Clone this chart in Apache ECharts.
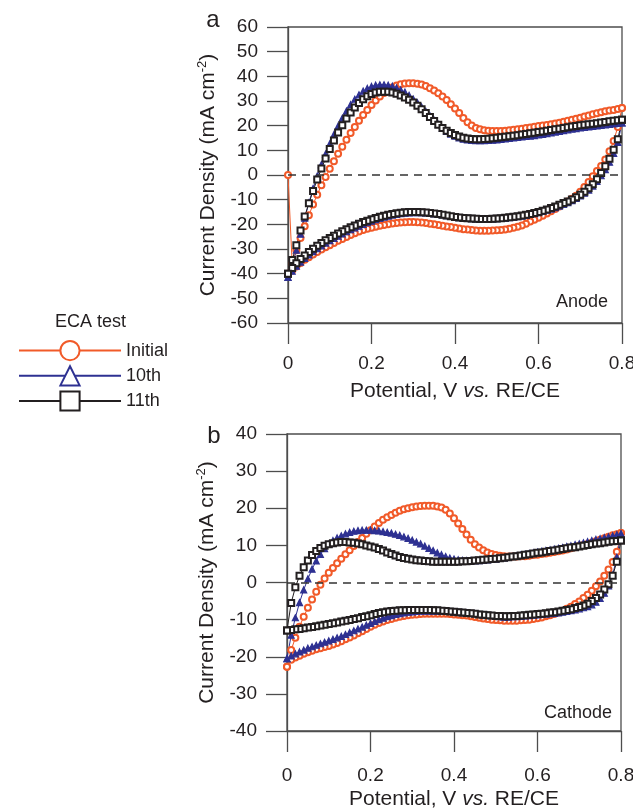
<!DOCTYPE html>
<html lang="en">
<head>
    <meta charset="UTF-8">
    <title>ECA test</title>
    <script src="https://cdn.jsdelivr.net/npm/echarts@6/dist/echarts.min.js"></script>
    <style>
        html, body { margin: 0; padding: 0; background: #fff; }
    </style>
</head>
<body>
<div id="main" style="width: 633px;height:810px;"></div>
<script type="text/javascript">
    // potential steps of one sweep, V
    const POT = [
        0, 0.01, 0.02, 0.03, 0.04, 0.05, 0.06, 0.07, 0.08, 0.09,
        0.1, 0.11, 0.12, 0.13, 0.14, 0.15, 0.16, 0.17, 0.18, 0.19,
        0.2, 0.21, 0.22, 0.23, 0.24, 0.25, 0.26, 0.27, 0.28, 0.29,
        0.3, 0.31, 0.32, 0.33, 0.34, 0.35, 0.36, 0.37, 0.38, 0.39,
        0.4, 0.41, 0.42, 0.43, 0.44, 0.45, 0.46, 0.47, 0.48, 0.49,
        0.5, 0.51, 0.52, 0.53, 0.54, 0.55, 0.56, 0.57, 0.58, 0.59,
        0.6, 0.61, 0.62, 0.63, 0.64, 0.65, 0.66, 0.67, 0.68, 0.69,
        0.7, 0.71, 0.72, 0.73, 0.74, 0.75, 0.76, 0.77, 0.78, 0.79,
        0.8
    ];
    const X_TICKS = [0, 0.2, 0.4, 0.6, 0.8];
    const NAMES = ['Initial', '10th', '11th'];

    // ---- anode, mA cm-2 ; Fwd = 0 -> 0.8 V, Rev = 0.8 -> 0 V
    const anodeInitialFwd = [
        0, -36, -30.5, -25.5, -20.8, -16.3, -12, -8, -4.2, -0.8,
        2.5, 5.6, 8.6, 11.5, 14.3, 17, 19.5, 22, 24.3, 26.4,
        28.4, 30.2, 31.8, 33.2, 34.5, 35.5, 36.3, 36.8, 37.1, 37.2,
        37.2, 37, 36.7, 36.1, 35.2, 34.3, 33.1, 31.8, 30.4, 28.7,
        27, 25.1, 23.1, 21.4, 20.1, 19.1, 18.5, 18.1, 17.9, 17.8,
        17.8, 17.8, 17.9, 18.1, 18.3, 18.5, 18.8, 19.1, 19.3, 19.6,
        19.9, 20.1, 20.3, 20.6, 20.9, 21.2, 21.6, 22, 22.4, 22.8,
        23.2, 23.7, 24.1, 24.6, 25, 25.4, 25.8, 26.1, 26.4, 26.8,
        27.2
    ];
    const anodeInitialRev = [
        27.2, 19.5, 13.8, 9.6, 6.3, 3.6, 1.6, -0.5, -2.8, -4.9,
        -6.8, -8.4, -9.6, -10.7, -11.8, -12.8, -13.8, -14.7, -15.6, -16.5,
        -17.3, -18.1, -18.9, -19.8, -20.5, -21, -21.4, -21.8, -22.1, -22.3,
        -22.4, -22.5, -22.6, -22.6, -22.6, -22.5, -22.3, -22.1, -22, -21.7,
        -21.4, -21.1, -20.9, -20.6, -20.3, -20, -19.8, -19.5, -19.3, -19.2,
        -19.1, -19.1, -19.2, -19.3, -19.5, -19.7, -20, -20.3, -20.6, -21,
        -21.4, -21.8, -22.3, -22.9, -23.6, -24.3, -25.1, -25.9, -26.7, -27.6,
        -28.5, -29.3, -30.2, -31.2, -32.2, -33.3, -34.4, -35.7, -37.1, -38.7,
        -40
    ];
    const anode10Fwd = [
        -41.5, -37, -30.5, -24, -17.5, -11.3, -5.5, -0.4, 4.2, 8.5,
        12.6, 16.4, 19.8, 23, 25.9, 28.5, 30.7, 32.5, 34, 35.1,
        35.9, 36.4, 36.6, 36.6, 36.4, 36, 35.3, 34.5, 33.6, 32.3,
        30.8, 29.3, 27.6, 25.8, 24, 22.2, 20.5, 19, 17.7, 16.6,
        15.7, 15, 14.5, 14.2, 14, 13.9, 13.9, 13.9, 14, 14.1,
        14.2, 14.4, 14.6, 14.8, 15, 15.2, 15.4, 15.6, 15.8, 16,
        16.3, 16.5, 16.8, 17.1, 17.4, 17.7, 18, 18.3, 18.6, 18.8,
        19.1, 19.3, 19.5, 19.7, 19.9, 20.1, 20.3, 20.5, 20.7, 20.9,
        21.1
    ];
    const anode10Rev = [
        21.1, 13.2, 8.8, 5.2, 2.2, -0.3, -2.6, -4.5, -6.1, -7.4,
        -8.5, -9.5, -10.4, -11.2, -11.9, -12.6, -13.2, -13.8, -14.3, -14.8,
        -15.3, -15.7, -16, -16.4, -16.7, -16.9, -17.1, -17.3, -17.5, -17.6,
        -17.7, -17.8, -17.9, -17.9, -17.9, -17.8, -17.7, -17.6, -17.5, -17.3,
        -17.1, -16.8, -16.5, -16.2, -16, -15.8, -15.6, -15.4, -15.3, -15.3,
        -15.3, -15.4, -15.5, -15.7, -16, -16.3, -16.7, -17.1, -17.6, -18.1,
        -18.7, -19.3, -20, -20.7, -21.4, -22.2, -23, -23.9, -24.8, -25.7,
        -26.6, -27.6, -28.7, -29.9, -31.1, -32.4, -33.8, -35.3, -37, -39,
        -41.5
    ];
    const anode11Fwd = [
        -40, -34.5, -28.5, -22.5, -16.8, -11.5, -6.5, -1.8, 2.6, 6.7,
        10.5, 14, 17.2, 20.2, 22.9, 25.3, 27.4, 29.2, 30.7, 31.9,
        32.8, 33.4, 33.7, 33.8, 33.7, 33.4, 32.9, 32.2, 31.4, 30.5,
        29.4, 28.1, 26.7, 25.1, 23.5, 21.9, 20.4, 19.1, 17.9, 17,
        16.2, 15.6, 15.1, 14.8, 14.6, 14.5, 14.5, 14.6, 14.7, 14.9,
        15.1, 15.3, 15.5, 15.7, 15.9, 16.1, 16.4, 16.6, 16.9, 17.1,
        17.4, 17.6, 17.9, 18.2, 18.5, 18.8, 19.1, 19.4, 19.7, 19.9,
        20.2, 20.4, 20.6, 20.8, 21, 21.3, 21.5, 21.8, 22, 22.2,
        22.4
    ];
    const anode11Rev = [
        22.4, 14.5, 10.2, 6.6, 3.5, 0.8, -1.7, -3.7, -5.4, -6.8,
        -8, -9, -9.9, -10.7, -11.4, -12.1, -12.8, -13.4, -14, -14.5,
        -15, -15.4, -15.8, -16.1, -16.4, -16.7, -16.9, -17.1, -17.3, -17.5,
        -17.6, -17.7, -17.8, -17.8, -17.8, -17.7, -17.6, -17.5, -17.4, -17.2,
        -17, -16.7, -16.4, -16.1, -15.8, -15.6, -15.4, -15.2, -15.1, -15,
        -15, -15, -15.1, -15.3, -15.5, -15.8, -16.1, -16.5, -16.9, -17.4,
        -17.9, -18.5, -19.1, -19.8, -20.5, -21.2, -22, -22.8, -23.7, -24.6,
        -25.5, -26.5, -27.6, -28.7, -29.9, -31.2, -32.6, -34.1, -35.8, -37.7,
        -40
    ];

    // ---- cathode
    const cathodeInitialFwd = [
        -22.7, -18.2, -14.9, -11.9, -9.2, -6.8, -4.6, -2.5, -0.6, 1.1,
        2.6, 3.9, 5.2, 6.4, 7.6, 8.7, 9.8, 10.9, 12, 13.1,
        14.1, 15.1, 16, 16.9, 17.6, 18.2, 18.8, 19.3, 19.7, 20,
        20.3, 20.5, 20.6, 20.7, 20.7, 20.7, 20.5, 20.2, 19.6, 18.6,
        17.3, 15.9, 14.4, 12.9, 11.5, 10.3, 9.4, 8.7, 8.1, 7.7,
        7.4, 7.2, 7.1, 7, 7, 7, 7.1, 7.1, 7.2, 7.4,
        7.5, 7.7, 7.8, 8, 8.2, 8.4, 8.6, 8.9, 9.2, 9.5,
        9.8, 10.1, 10.4, 10.7, 11.1, 11.5, 11.9, 12.3, 12.7, 13,
        13.3
    ];
    const cathodeInitialRev = [
        13.3, 8.3, 5.5, 3.5, 1.8, 0.3, -1, -2.2, -3.3, -4.2,
        -5.1, -5.8, -6.5, -7.1, -7.6, -8.1, -8.5, -8.8, -9.1, -9.4,
        -9.6, -9.8, -10, -10.1, -10.2, -10.3, -10.3, -10.3, -10.3, -10.2,
        -10.1, -10, -9.8, -9.7, -9.5, -9.3, -9.1, -8.9, -8.8, -8.7,
        -8.6, -8.5, -8.4, -8.4, -8.4, -8.4, -8.4, -8.4, -8.5, -8.6,
        -8.7, -8.8, -9, -9.2, -9.5, -9.8, -10.1, -10.5, -10.9, -11.4,
        -11.9, -12.5, -13.1, -13.7, -14.3, -14.8, -15.3, -15.8, -16.3, -16.7,
        -17.1, -17.4, -17.7, -18, -18.4, -18.8, -19.2, -19.7, -20.2, -20.8,
        -22.7
    ];
    const cathode10Fwd = [
        -20.5, -14.2, -9.5, -5.4, -2, 1, 3.6, 5.8, 7.6, 9.1,
        10.3, 11.3, 12, 12.6, 13.1, 13.5, 13.8, 14, 14.1, 14.1,
        14.1, 14, 13.9, 13.7, 13.5, 13.3, 13, 12.7, 12.3, 11.9,
        11.4, 10.9, 10.4, 9.8, 9.2, 8.6, 8, 7.5, 7, 6.6,
        6.3, 6.1, 6, 5.9, 5.9, 5.9, 5.9, 6, 6.1, 6.2,
        6.3, 6.5, 6.6, 6.8, 7, 7.2, 7.4, 7.6, 7.8, 8,
        8.2, 8.4, 8.6, 8.8, 9, 9.2, 9.4, 9.7, 9.9, 10.2,
        10.4, 10.7, 11, 11.3, 11.6, 11.8, 12.1, 12.3, 12.6, 12.9,
        13.1
    ];
    const cathode10Rev = [
        13.1, 6.8, 2, -0.9, -2.9, -4.3, -5.3, -6, -6.5, -6.8,
        -7.1, -7.4, -7.6, -7.8, -8, -8.2, -8.3, -8.4, -8.5, -8.6,
        -8.7, -8.8, -8.9, -9, -9.1, -9.2, -9.2, -9.3, -9.3, -9.2,
        -9.1, -8.9, -8.8, -8.7, -8.6, -8.4, -8.3, -8.2, -8.1, -8,
        -7.9, -7.8, -7.8, -7.7, -7.7, -7.7, -7.7, -7.7, -7.7, -7.8,
        -7.9, -8, -8.2, -8.4, -8.6, -8.9, -9.2, -9.6, -10, -10.5,
        -11, -11.5, -12, -12.5, -13, -13.5, -14, -14.5, -14.9, -15.3,
        -15.7, -16.1, -16.5, -16.9, -17.3, -17.7, -18.2, -18.7, -19.2, -19.8,
        -20.5
    ];
    const cathode11Fwd = [
        -12.9, -5.5, -1.3, 1.8, 4.1, 5.9, 7.4, 8.5, 9.3, 9.9,
        10.3, 10.6, 10.8, 10.9, 10.9, 10.8, 10.7, 10.5, 10.3, 10,
        9.7, 9.4, 9, 8.6, 8.1, 7.7, 7.3, 6.9, 6.6, 6.4,
        6.2, 6, 5.9, 5.8, 5.7, 5.6, 5.6, 5.6, 5.6, 5.6,
        5.6, 5.6, 5.7, 5.7, 5.8, 5.9, 6, 6.1, 6.2, 6.3,
        6.4, 6.5, 6.7, 6.8, 7, 7.1, 7.3, 7.5, 7.6, 7.8,
        8, 8.1, 8.3, 8.5, 8.6, 8.8, 9, 9.2, 9.4, 9.5,
        9.7, 9.9, 10.1, 10.3, 10.5, 10.6, 10.8, 11, 11.1, 11.2,
        11.3
    ];
    const cathode11Rev = [
        11.3, 5.6, 1.8, -0.5, -1.9, -3.2, -4.2, -5, -5.7, -6.2,
        -6.6, -6.9, -7.2, -7.4, -7.6, -7.8, -8, -8.1, -8.3, -8.4,
        -8.5, -8.6, -8.7, -8.8, -8.9, -9, -9, -9.1, -9.1, -9,
        -9, -8.9, -8.8, -8.7, -8.6, -8.4, -8.3, -8.2, -8.1, -8,
        -7.9, -7.8, -7.7, -7.6, -7.5, -7.5, -7.4, -7.4, -7.4, -7.4,
        -7.4, -7.4, -7.5, -7.5, -7.6, -7.7, -7.8, -8, -8.2, -8.5,
        -8.8, -9.1, -9.3, -9.6, -9.8, -10.1, -10.3, -10.5, -10.8, -11,
        -11.2, -11.4, -11.6, -11.8, -12, -12.1, -12.3, -12.5, -12.6, -12.8,
        -12.9
    ];

    const FONT = '"Liberation Sans", Arial, sans-serif';
    const TXT = '#231f20';
    const AX = '#4d4d4d';
    const COLORS = {'Initial': '#f15a29', '10th': '#2e3192', '11th': '#231f20'};
    const SYMBOLS = {'Initial': 'emptyCircle', '10th': 'triangle', '11th': 'emptyRect'};

    // forward sweep then reverse sweep, as one closed loop
    function loop(fwd, rev) {
        let pts = [];
        for (let i = 0; i < fwd.length; i++) pts.push([POT[i], fwd[i]]);
        for (let i = 0; i < rev.length; i++) pts.push([POT[POT.length - 1 - i], rev[i]]);
        return pts;
    }

    function cvSeries(name, data, idx) {
        let s = {
            name: name,
            type: 'line',
            xAxisIndex: idx,
            yAxisIndex: idx,
            data: data,
            symbol: SYMBOLS[name],
            symbolSize: 6,
            showAllSymbol: true,
            clip: false,
            color: COLORS[name],
            lineStyle: {color: COLORS[name], width: 1},
            itemStyle: {color: COLORS[name], borderColor: COLORS[name], borderWidth: 1.2},
            emphasis: {disabled: true}
        };
        if (name === 'Initial') {
            s.markLine = {
                silent: true,
                symbol: 'none',
                label: {show: false},
                lineStyle: {color: '#333', width: 1.6, type: [8, 6]},
                data: [{yAxis: 0}]
            };
        }
        return s;
    }

    function xAxisOf(idx, labelMargin, gap) {
        return {
            type: 'value', gridIndex: idx, min: 0, max: 0.8, interval: 0.2,
            name: 'Potential, V {i|vs.} RE/CE', nameLocation: 'middle', nameGap: gap,
            nameTextStyle: {fontSize: 21, color: TXT, fontFamily: FONT,
                rich: {i: {fontSize: 21, fontStyle: 'italic', color: TXT, fontFamily: FONT}}},
            axisLine: {onZero: false, lineStyle: {color: AX, width: 1.3}},
            axisTick: {inside: false, length: 21, lineStyle: {color: AX, width: 1.3}},
            axisLabel: {fontSize: 19, color: TXT, fontFamily: FONT, margin: labelMargin,
                customValues: X_TICKS},
            splitLine: {show: false}
        };
    }

    function yAxisOf(idx, min, max) {
        return {
            type: 'value', gridIndex: idx, min: min, max: max, interval: 10,
            name: 'Current Density (mA cm{sup|-2})', nameLocation: 'middle', nameGap: 67,
            nameRotate: 90,
            nameTextStyle: {fontSize: 21, color: TXT, fontFamily: FONT,
                rich: {sup: {fontSize: 13, color: TXT, fontFamily: FONT, padding: [0, 0, 12, 0]}}},
            axisLine: {onZero: false, lineStyle: {color: AX, width: 1.3}},
            axisTick: {inside: false, length: 21, lineStyle: {color: AX, width: 1.3}},
            axisLabel: {fontSize: 19, color: TXT, fontFamily: FONT, margin: 30},
            splitLine: {show: false}
        };
    }

    function textAt(x, y, text, size, align) {
        return {
            type: 'text', x: x, y: y, silent: true,
            style: {text: text, fill: TXT, fontSize: size, fontFamily: FONT,
                align: align, verticalAlign: 'middle'}
        };
    }

    let myChart = echarts.init(document.getElementById('main'));
    let option = {
        animation: false,
        backgroundColor: '#fff',
        grid: [
            {left: 288, top: 27, width: 334, height: 296, show: true, borderColor: AX, borderWidth: 1.3,
                outerBoundsMode: 'none'},
            {left: 287, top: 434, width: 334, height: 297, show: true, borderColor: AX, borderWidth: 1.3,
                outerBoundsMode: 'none'}
        ],
        xAxis: [xAxisOf(0, 31, 58), xAxisOf(1, 35, 58)],
        yAxis: [yAxisOf(0, -60, 60), yAxisOf(1, -40, 40)],
        legend: {
            data: [
                {name: 'Initial'},
                {name: '10th', itemStyle: {color: '#fff', borderColor: COLORS['10th'], borderWidth: 2}},
                {name: '11th'}
            ],
            orient: 'vertical',
            left: 13,
            top: 335,
            itemWidth: 102,
            itemHeight: 24,
            itemGap: 4,
            textStyle: {fontSize: 18, color: TXT, fontFamily: FONT}
        },
        graphic: [
            textAt(55, 322, 'ECA test', 18, 'left'),
            textAt(213, 20, 'a', 24, 'center'),
            textAt(214, 436, 'b', 24, 'center'),
            textAt(608, 302, 'Anode', 18, 'right'),
            textAt(612, 713, 'Cathode', 18, 'right')
        ],
        series: [
            cvSeries('Initial', loop(anodeInitialFwd, anodeInitialRev), 0),
            cvSeries('10th', loop(anode10Fwd, anode10Rev), 0),
            cvSeries('11th', loop(anode11Fwd, anode11Rev), 0),
            cvSeries('Initial', loop(cathodeInitialFwd, cathodeInitialRev), 1),
            cvSeries('10th', loop(cathode10Fwd, cathode10Rev), 1),
            cvSeries('11th', loop(cathode11Fwd, cathode11Rev), 1)
        ]
    };
    myChart.setOption(option);
</script>
</body>
</html>
